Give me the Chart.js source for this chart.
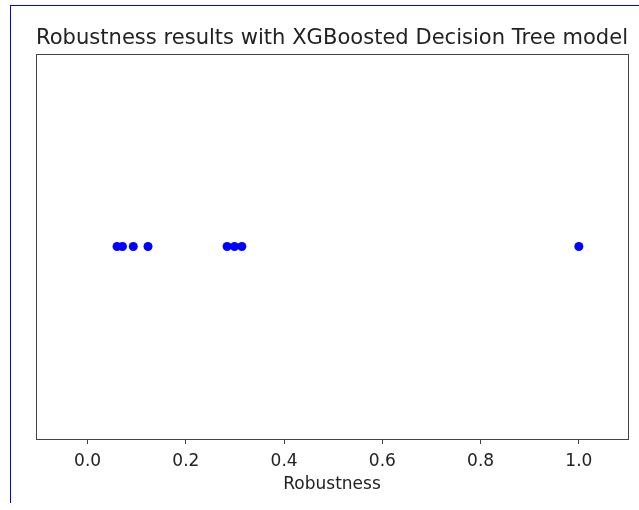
<!DOCTYPE html>
<html>
<head>
<meta charset="utf-8">
<script src="https://cdn.jsdelivr.net/npm/chart.js@4"></script>
<style>
  body { margin: 0; background: #fff; }
  #wrap { position: relative; width: 639px; height: 510px; }
  #edge { position: absolute; left: 10px; top: 5px; right: 0; height: 497px;
          border-left: 1px solid #0000ff; border-top: 1px solid #0000ff; pointer-events: none; }
  canvas { position: absolute; left: 0; top: 0; }
</style>
</head>
<body>
<div id="wrap">
  <canvas id="robChart" width="639" height="510"></canvas>
  <div id="edge"></div>
</div>
<script>
// robustness scores
const robustness = [0.060, 0.071, 0.093, 0.123, 0.284, 0.299, 0.314, 1.0];
const rowLevel = [0, 0, 0, 0, 0, 0, 0, 0];
const xTicks = [0.0, 0.2, 0.4, 0.6, 0.8, 1.0];

const frame = {
    id: 'frame',
    afterDraw(chart) {
        const a = chart.chartArea, c = chart.ctx;
        c.save();
        c.strokeStyle = '#444';
        c.lineWidth = 1;
        c.strokeRect(Math.round(a.left) + 0.5, Math.round(a.top) + 0.5,
                     Math.round(a.right - a.left), Math.round(a.bottom - a.top));
        c.restore();
    }
};

document.addEventListener("DOMContentLoaded", function() {
    const ctx = document.getElementById('robChart').getContext('2d');
    new Chart(ctx, {
        type: 'scatter',
        data: {
            datasets: [{
                data: robustness.map((v, i) => ({ x: v, y: rowLevel[i] })),
                backgroundColor: '#0000ff',
                borderWidth: 0,
                pointRadius: 4.5
            }]
        },
        options: {
            responsive: false,
            animation: false,
            layout: { padding: { left: 36, right: 11, top: 0, bottom: 15 } },
            scales: {
                x: {
                    type: 'linear',
                    min: -0.105,
                    max: 1.1,
                    afterBuildTicks: s => { s.ticks = xTicks.map(v => ({ value: v })); },
                    afterFit: s => { s.height = 56; },
                    grid: { drawOnChartArea: false, drawTicks: true, tickLength: 5, color: '#444' },
                    border: { display: false },
                    ticks: { color: '#222', padding: 7.5,
                             font: { family: 'DejaVu Sans', size: 17 },
                             callback: v => v.toFixed(1) },
                    title: { display: true, text: 'Robustness', color: '#222',
                             font: { family: 'DejaVu Sans', size: 17 }, padding: { top: 2, bottom: 0 } }
                },
                y: { display: false, min: -1, max: 1 }
            },
            plugins: {
                legend: { display: false },
                tooltip: { enabled: false },
                title: { display: true, text: 'Robustness results with XGBoosted Decision Tree model',
                         color: '#222', font: { family: 'DejaVu Sans', size: 21.5, weight: 'normal' },
                         padding: { top: 25.3, bottom: 3 } }
            }
        },
        plugins: [frame]
    });
});
</script>
</body>
</html>
